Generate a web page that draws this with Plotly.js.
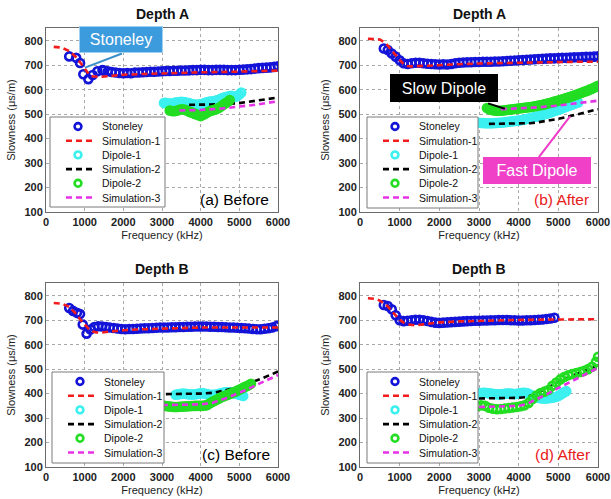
<!DOCTYPE html>
<html>
<head>
<meta charset="utf-8">
<script src="https://cdn.plot.ly/plotly-3.0.1.min.js"></script>
<style>html,body{margin:0;padding:0;background:#fff;}#chart{width:611px;height:499px;}</style>
</head>
<body>
<div id="chart"></div>
<script>
// ---------- tick labels ----------
const freqTicks = [0, 1000, 2000, 3000, 4000, 5000, 6000];
const slowTicks = [100, 200, 300, 400, 500, 600, 700, 800];
const seriesNames = ["Stoneley", "Simulation-1", "Dipole-1", "Simulation-2", "Dipole-2", "Simulation-3"];
const panelTitles = ["Depth A", "Depth A", "Depth B", "Depth B"];
const panelLabels = ["(a) Before", "(b) After", "(c) Before", "(d) After"];

// ---------- panel (a) Depth A, Before ----------
const aStoneleyF = [600,780,880,965,1095,1207,1330,1460,1500,1600,1700,1800,1900,2000,2100,2200,2300,2400,2500,2600,2700,2800,2900,3000,3100,3200,3300,3400,3500,3600,3700,3800,3900,4000,4100,4200,4300,4400,4500,4600,4700,4800,4900,5000,5100,5200,5300,5400,5500,5600,5700,5800,5900,6000];
const aStoneleyS = [736,730,709,663,643,660,675,680,678,675,672,670,668,667,668,667,670,670,671,672,673,673,674,675,676,676,677,677,678,678,679,680,680,681,681,680,680,681,681,681,680,680,680,681,682,683,684,686,688,689,690,691,693,695];
const aSim1F = [200,400,600,800,900,1000,1100,1200,1300,1400,1600,1800,2000,2500,3000,3500,4000,4500,5000,5500,6000];
const aSim1S = [775,772,758,730,708,685,665,655,652,652,655,658,661,664,667,669,671,672,674,676,678];
const aDip1F = [3050,3100,3150,3200,3250,3300,3350,3400,3450,3500,3550,3600,3650,3700,3750,3800,3850,3900,3950,4000,4050,4100,4150,4200,4250,4300,4350,4400,4450,4500,4550,4600,4650,4700,4750,4800,4850,4900,4950,5000,5050];
const aDip1S = [545,546,544,542,543,545,547,548,549,550,549,548,546,545,542,540,539,538,539,540,542,545,548,550,551,552,553,555,558,562,565,568,570,572,574,575,572,570,575,580,588];
const aSim2F = [3700,4000,4500,5000,5500,6000];
const aSim2S = [538,538,540,545,555,568];
const aDip2F = [3200,3250,3300,3350,3400,3450,3500,3550,3600,3650,3700,3750,3800,3850,3900,3950,4000,4050,4100,4150,4200,4250,4300,4350,4400,4450,4500,4550,4600,4650,4700,4750];
const aDip2S = [515,513,512,513,515,518,520,519,518,514,510,507,505,501,498,495,492,496,500,505,510,513,515,518,520,524,528,534,540,545,550,558];
const aSim3F = [3450,4000,4500,5000,5500,6000];
const aSim3S = [515,517,522,530,540,553];

// ---------- panel (b) Depth A, After ----------
const bStoneleyF = [600,700,800,900,1000,1100,1200,1300,1400,1500,1600,1700,1800,1900,2000,2100,2200,2300,2400,2500,2600,2700,2800,2900,3000,3100,3200,3300,3400,3500,3600,3700,3800,3900,4000,4100,4200,4300,4400,4500,4600,4700,4800,4900,5000,5100,5200,5300,5400,5500,5600,5700,5800,5900,6000];
const bStoneleyS = [768,762,748,735,720,708,705,708,710,710,708,706,705,704,703,704,703,705,708,710,711,712,712,713,713,714,714,714,715,715,716,717,718,719,720,721,722,723,724,725,726,727,728,728,729,730,730,731,732,732,733,734,734,735,736];
const bSim1F = [200,400,500,600,700,800,900,1000,1100,1200,1300,1500,2000,2500,3000,3500,4000,4500,5000,5500,6000];
const bSim1S = [808,808,805,795,780,760,740,722,705,697,695,697,700,704,707,709,711,712,713,714,714];
const bDip1F = [3000,3050,3100,3150,3200,3250,3300,3350,3400,3450,3500,3550,3600,3650,3700,3750,3800,3850,3900,3950,4000,4050,4100,4150,4200,4250,4300,4350,4400,4450,4500,4550,4600,4650,4700,4750,4800,4850,4900,4950,5000,5050,5100,5150,5200,5250,5300,5350,5400,5450,5500];
const bDip1S = [465,464,464,463,463,463,463,463,464,464,465,465,466,467,468,469,470,471,472,473,474,475,477,478,480,482,484,486,488,490,492,494,497,499,502,504,507,510,513,515,518,521,524,527,530,533,536,539,542,545,548];
const bSim2F = [3250,3500,4000,4300,4500,4800,5000,5300,5500,5800,6000];
const bSim2S = [460,460,460,463,467,475,481,492,500,512,520];
const bDip2F = [3200,3250,3300,3350,3400,3450,3500,3550,3600,3650,3700,3750,3800,3850,3900,3950,4000,4050,4100,4150,4200,4250,4300,4350,4400,4450,4500,4550,4600,4650,4700,4750,4800,4850,4900,4950,5000,5050,5100,5150,5200,5250,5300,5350,5400,5450,5500,5550,5600,5650,5700,5750,5800,5850,5900,5950,6000];
const bDip2S = [525,521,518,516,515,514,514,514,515,516,517,518,519,520,521,522,523,524,525,526,527,528,529,530,532,533,535,536,538,540,542,544,546,548,551,553,556,558,561,563,566,568,571,573,576,579,582,585,588,591,594,597,601,604,608,612,616];
const bSim3F = [3550,4000,4500,5000,5500,6000];
const bSim3S = [520,523,528,535,545,555];

// ---------- panel (c) Depth B, Before ----------
const cStoneleyF = [600,700,800,880,950,1050,1150,1250,1350,1450,1550,1650,1750,1850,1950,2050,2150,2250,2350,2450,2550,2650,2750,2850,2950,3050,3150,3250,3350,3450,3550,3650,3750,3850,3950,4050,4150,4250,4350,4450,4550,4650,4750,4850,4950,5050,5150,5250,5350,5450,5550,5650,5750,5850,5950,6000];
const cStoneleyS = [750,738,730,725,682,645,662,672,675,674,672,670,668,666,664,663,664,664,665,666,667,667,668,669,670,670,670,671,671,672,672,673,673,674,674,674,674,673,673,672,672,671,670,670,669,668,667,666,664,663,663,665,667,670,675,678];
const cSim1F = [200,400,600,700,800,900,1000,1100,1200,1300,1400,1600,1800,2000,2500,3000,3500,4000,4500,5000,5500,6000];
const cSim1S = [770,768,755,740,722,700,682,665,655,650,649,652,656,659,663,666,668,670,670,670,670,670];
const cDip1F = [3350,3400,3450,3500,3550,3600,3650,3700,3750,3800,3850,3900,3950,4000,4050,4100,4150,4200,4250,4300,4350,4400,4450,4500,4550,4600,4650,4700,4750,4800,4850,4900,4950,5000,5050,5100];
const cDip1S = [395,396,398,399,400,399,398,397,396,396,397,398,400,401,402,400,398,396,395,395,395,396,398,400,402,404,405,405,405,404,402,400,398,395,393,390];
const cSim2F = [3100,3500,4000,4300,4600,5000,5300,5600,6000];
const cSim2S = [398,398,400,403,412,428,445,463,490];
const cDip2F = [3050,3100,3150,3200,3250,3300,3350,3400,3450,3500,3550,3600,3650,3700,3750,3800,3850,3900,3950,4000,4050,4100,4150,4200,4250,4300,4350,4400,4450,4500,4550,4600,4650,4700,4750,4800,4850,4900,4950,5000,5050,5100,5150,5200,5250,5300];
const cDip2S = [350,349,348,347,346,345,345,345,346,346,347,347,348,348,349,349,350,350,350,350,350,351,352,356,362,366,370,374,378,382,386,389,392,395,398,401,405,408,412,416,420,424,428,431,435,440];
const cSim3F = [3000,3500,4000,4300,4600,5000,5300,5600,6000];
const cSim3S = [353,353,356,362,378,403,425,446,476];

// ---------- panel (d) Depth B, After ----------
const dStoneleyF = [600,700,800,900,1000,1100,1200,1300,1400,1500,1600,1700,1800,1900,2000,2100,2200,2300,2400,2500,2600,2700,2800,2900,3000,3100,3200,3300,3400,3500,3600,3700,3800,3900,4000,4100,4200,4300,4400,4500,4600,4700,4800,4900];
const dStoneleyS = [762,758,745,720,700,696,698,700,702,702,700,697,693,690,689,690,691,692,693,694,695,696,697,698,698,699,699,700,700,701,701,701,700,700,699,699,700,700,701,702,703,705,707,710];
const dSim1F = [200,400,500,600,700,800,900,1000,1100,1200,1300,1400,1600,1800,2000,2500,3000,3500,4000,4500,5000,5500,6000];
const dSim1S = [790,787,780,770,756,740,720,702,690,683,680,679,683,688,691,695,698,699,701,702,703,704,704];
const dDip1F = [2900,2950,3000,3050,3100,3150,3200,3250,3300,3350,3400,3450,3500,3550,3600,3650,3700,3750,3800,3850,3900,3950,4000,4050,4100,4150,4200,4250,4300,4350,4400,4450,4500,4550,4600,4650,4700,4750,4800,4850,4900,4950,5000,5050,5100,5150,5200];
const dDip1S = [398,399,400,402,403,403,402,401,400,399,398,397,397,397,398,399,400,400,400,399,398,399,400,402,403,403,402,399,395,391,388,385,383,381,380,380,380,381,382,383,385,387,390,395,400,405,410];
const dSim2F = [3000,3500,4000,4200,4400,4600,4800,5000,5300,5600,6000];
const dSim2S = [380,381,383,386,397,413,430,448,470,490,515];
const dDip2F = [2950,3050,3150,3250,3350,3450,3550,3650,3750,3850,3950,4050,4150,4250,4350,4450,4550,4650,4750,4850,4950,5050,5150,5250,5350,5450,5550,5650,5750,5850,5950,6000];
const dDip2S = [348,352,350,342,338,336,337,339,341,343,345,348,352,362,378,392,402,408,415,432,445,458,468,475,480,484,488,493,500,510,530,550];
const dSim3F = [3000,3500,4000,4200,4400,4600,4800,5000,5300,5600,6000];
const dSim3S = [345,346,350,357,372,388,405,423,448,472,505];

// ---------- styling ----------
const W = 611, H = 499;
const SANS = "Liberation Sans, Arial, sans-serif";
const colors = ["#1414d8", "#f21c1c", "#3cf0f0", "#000000", "#22dd22", "#e632e6"];
const isMarker = [true, false, true, false, true, false];

const panels = [
  {sets: [[aStoneleyF,aStoneleyS],[aSim1F,aSim1S],[aDip1F,aDip1S],[aSim2F,aSim2S],[aDip2F,aDip2S],[aSim3F,aSim3S]],
   px: [46, 278], py: [28, 212], legend: [50, 117, 165, 207], labelColor: "#000000", labelRight: 271},
  {sets: [[bStoneleyF,bStoneleyS],[bSim1F,bSim1S],[bDip1F,bDip1S],[bSim2F,bSim2S],[bDip2F,bDip2S],[bSim3F,bSim3S]],
   px: [360, 598], py: [28, 212], legend: [367, 117, 478, 208], labelColor: "#e8201c", labelRight: 591},
  {sets: [[cStoneleyF,cStoneleyS],[cSim1F,cSim1S],[cDip1F,cDip1S],[cSim2F,cSim2S],[cDip2F,cDip2S],[cSim3F,cSim3S]],
   px: [46, 278], py: [283, 467], legend: [52, 372, 164, 463], labelColor: "#000000", labelRight: 272},
  {sets: [[dStoneleyF,dStoneleyS],[dSim1F,dSim1S],[dDip1F,dDip1S],[dSim2F,dSim2S],[dDip2F,dDip2S],[dSim3F,dSim3S]],
   px: [360, 598], py: [283, 467], legend: [367, 372, 478, 463], labelColor: "#e8201c", labelRight: 592}
];

const fx = p => p / W;
const fy = p => 1 - p / H;

const traces = [];
const layout = {
  width: W, height: H,
  margin: {l: 0, r: 0, t: 0, b: 0},
  paper_bgcolor: "#ffffff", plot_bgcolor: "#ffffff",
  showlegend: false,
  font: {family: SANS, color: "#111"},
  shapes: [], annotations: []
};

panels.forEach((p, i) => {
  const n = i + 1;
  const xs = n === 1 ? "" : String(n);
  const xaxName = "xaxis" + xs, yaxName = "yaxis" + xs;
  const xref = "x" + xs, yref = "y" + xs;
  p.sets.forEach((s, k) => {
    const t = {
      x: s[0], y: s[1], name: seriesNames[k], xaxis: xref, yaxis: yref,
      type: "scatter", cliponaxis: true, hoverinfo: "skip"
    };
    if (isMarker[k]) {
      t.mode = "markers";
      t.marker = {symbol: "circle-open", size: 8, color: colors[k], line: {width: 2.6, color: colors[k]}};
    } else {
      t.mode = "lines";
      t.line = {color: colors[k], width: 2.6, dash: "6px,4px"};
    }
    traces.push(t);
  });
  layout[xaxName] = {
    domain: [fx(p.px[0]), fx(p.px[1])], anchor: yref, range: [0, 6000],
    tickmode: "array", tickvals: freqTicks, ticktext: freqTicks.map(String),
    showgrid: true, gridcolor: "#a8a8a8", griddash: "dot", gridwidth: 1,
    showline: true, mirror: true, linecolor: "#6a6a6a", linewidth: 1,
    zeroline: false, ticks: "", fixedrange: true,
    tickfont: {family: SANS, size: 11, color: "#222", weight: "bold"},
    title: {text: "Frequency (kHz)", font: {family: SANS, size: 11, color: "#222"}, standoff: 4}
  };
  layout[yaxName] = {
    domain: [fy(p.py[1]), fy(p.py[0])], anchor: xref, range: [100, 852],
    tickmode: "array", tickvals: slowTicks, ticktext: slowTicks.map(String),
    showgrid: true, gridcolor: "#a8a8a8", griddash: "dot", gridwidth: 1,
    showline: true, mirror: true, linecolor: "#6a6a6a", linewidth: 1,
    zeroline: false, ticks: "", fixedrange: true,
    tickfont: {family: SANS, size: 11, color: "#222", weight: "bold"},
    title: {text: "Slowness (\u03bcs/m)", font: {family: SANS, size: 11, color: "#222"}, standoff: 6}
  };
  // panel title
  layout.annotations.push({
    xref: "paper", yref: "paper", x: fx((p.px[0] + p.px[1]) / 2), y: fy(p.py[0] - 14),
    text: panelTitles[i], showarrow: false, xanchor: "center", yanchor: "middle",
    font: {family: SANS, size: 14, color: "#111", weight: "bold"}
  });
  // panel label
  layout.annotations.push({
    xref: "paper", yref: "paper", x: fx(p.labelRight), y: fy(p.py[1] - 13),
    text: panelLabels[i], showarrow: false, xanchor: "right", yanchor: "middle",
    font: {family: SANS, size: 15.5, color: p.labelColor}
  });
  // drawn legend box
  const [L, T, R, B] = p.legend;
  layout.shapes.push({type: "rect", xref: "paper", yref: "paper", layer: "above",
    x0: fx(L), x1: fx(R), y0: fy(B), y1: fy(T),
    fillcolor: "#ffffff", line: {color: "#7a7a7a", width: 1}});
  seriesNames.forEach((name, k) => {
    const cy = T + 9.5 + k * 14.2;
    if (isMarker[k]) {
      const r = 3.4, cx = L + 28;
      layout.shapes.push({type: "circle", xref: "paper", yref: "paper", layer: "above",
        x0: fx(cx - r), x1: fx(cx + r), y0: fy(cy + r), y1: fy(cy - r),
        line: {color: colors[k], width: 2.6}});
    } else {
      layout.shapes.push({type: "line", xref: "paper", yref: "paper", layer: "above",
        x0: fx(L + 16), x1: fx(L + 44), y0: fy(cy), y1: fy(cy),
        line: {color: colors[k], width: 2.6, dash: "6px,4px"}});
    }
    layout.annotations.push({
      xref: "paper", yref: "paper", x: fx(L + 50), y: fy(cy),
      text: name, showarrow: false, xanchor: "left", yanchor: "middle",
      font: {family: SANS, size: 10.5, color: "#111"}
    });
  });
});

// ---------- callouts ----------
function box(text, cx, cy, w, h, bg, border) {
  layout.annotations.push({
    xref: "paper", yref: "paper", x: fx(cx), y: fy(cy), xanchor: "center", yanchor: "middle",
    text: text, showarrow: false, width: w, height: h, borderpad: 0, borderwidth: 1,
    bgcolor: bg, bordercolor: border, align: "center", valign: "middle",
    font: {family: SANS, size: 16, color: "#ffffff"}
  });
}
// connector lines in data units of each panel
layout.shapes.push({type: "line", xref: "x", yref: "y", layer: "above",
  x0: 1965, y0: 748, x1: 1010, y1: 690, line: {color: "#3b8fc9", width: 2}});
layout.shapes.push({type: "line", xref: "x2", yref: "y2", layer: "above",
  x0: 3230, y0: 544, x1: 3650, y1: 522, line: {color: "#000000", width: 2}});
layout.shapes.push({type: "line", xref: "x2", yref: "y2", layer: "above",
  x0: 4510, y0: 324, x1: 5300, y1: 492, line: {color: "#ee3cc8", width: 2}});
box("Stoneley", 121, 39.5, 82, 25, "#3c9bdc", "#9fd0f2");
box("Slow Dipole", 444, 88, 106, 26, "#000000", "#000000");
box("Fast Dipole", 537, 170.5, 106, 25, "#f040c8", "#f040c8");

Plotly.newPlot("chart", traces, layout, {staticPlot: true, displayModeBar: false});
</script>
</body>
</html>
